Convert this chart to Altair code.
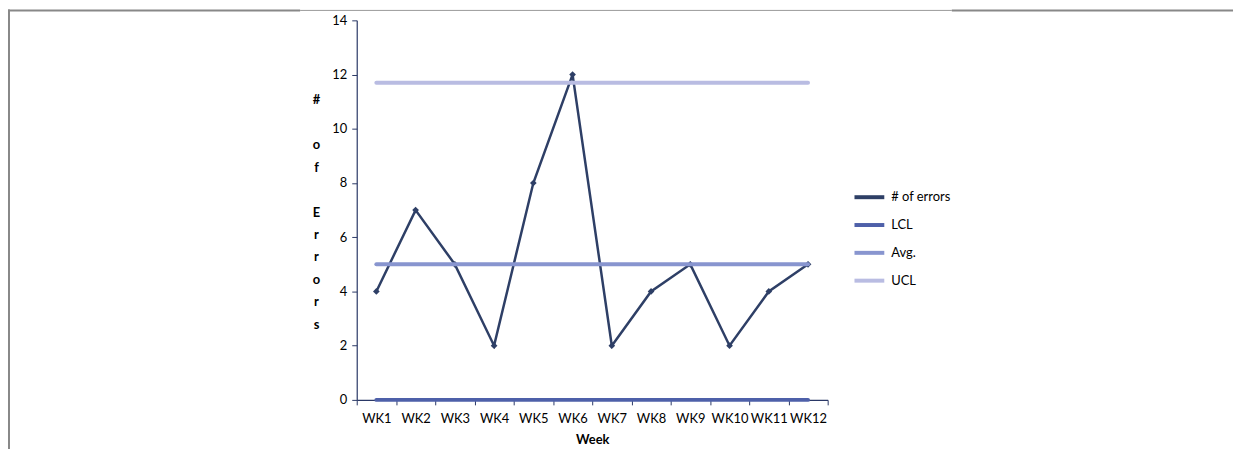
import altair as alt
import pandas as pd

weeks = ["WK1", "WK2", "WK3", "WK4", "WK5", "WK6", "WK7", "WK8", "WK9", "WK10", "WK11", "WK12"]
errors = [4, 7, 5, 2, 8, 12, 2, 4, 5, 2, 4, 5]
lcl_value = 0.0
avg_value = 5.0
ucl_value = 11.7

series_names = ["# of errors", "LCL", "Avg.", "UCL"]
series_colors = ["#2E3F66", "#4E60A9", "#8895CF", "#B9BCE2"]

err_df = pd.DataFrame({"week": weeks, "value": errors, "series": "# of errors"})
ctrl_rows = []
for name, v in [("LCL", lcl_value), ("Avg.", avg_value), ("UCL", ucl_value)]:
    for w in weeks:
        ctrl_rows.append({"week": w, "value": v, "series": name})
ctrl_df = pd.DataFrame(ctrl_rows)

FONT = "Lato"
W, H = 474, 382
BLANK = "\u2800"

x_enc = alt.X(
    "week:N",
    sort=weeks,
    bandPosition=0.5,
    scale=alt.Scale(type="band", paddingInner=0, paddingOuter=0),
    axis=alt.Axis(
        title="Week", tickBand="extent", labelAngle=0, labelPadding=8,
        titleFontWeight="bold", titlePadding=8,
    ),
)
y_enc = alt.Y(
    "value:Q",
    scale=alt.Scale(domain=[0, 14], nice=False),
    axis=alt.Axis(
        values=list(range(0, 15, 2)), grid=False, labelPadding=5,
        title=["#", BLANK, "o", "f", BLANK, "E", "r", "r", "o", "r", "s"],
        titleAngle=0, titleAlign="center", titleBaseline="top",
        titleX=-41, titleY=74, titleLineHeight=22.6, titleFontWeight="bold",
    ),
)
color_enc = alt.Color(
    "series:N",
    scale=alt.Scale(domain=series_names, range=series_colors),
    legend=alt.Legend(
        title=None, orient="none", legendX=499, legendY=161,
        symbolType="stroke", symbolSize=900, symbolStrokeWidth=4,
        rowPadding=3, labelFontSize=13, labelFont=FONT, labelOffset=5,
    ),
)

err_line = alt.Chart(err_df).mark_line(strokeWidth=2.5).encode(x=x_enc, y=y_enc, color=color_enc)
err_pts = alt.Chart(err_df).mark_point(shape="diamond", filled=True, size=45, opacity=1).encode(
    x=x_enc, y=y_enc, color=color_enc
)
ctrl = alt.Chart(ctrl_df).mark_line(strokeWidth=4, strokeCap="round").encode(
    x=x_enc, y=y_enc, color=color_enc, detail="series:N"
)

frame_df = pd.DataFrame({"k": [0]})
base = alt.Chart(frame_df)
frame_left = base.mark_rule(color="#888888", strokeWidth=2).encode(
    x=alt.value(-350), y=alt.value(-11), y2=alt.value(445)
)
frame_top1 = base.mark_rule(color="#888888", strokeWidth=2).encode(
    x=alt.value(-351), x2=alt.value(-57), y=alt.value(-10)
)
frame_top2 = base.mark_rule(color="#999999", strokeWidth=1).encode(
    x=alt.value(-57), x2=alt.value(599), y=alt.value(-10)
)
frame_top3 = base.mark_rule(color="#888888", strokeWidth=2).encode(
    x=alt.value(599), x2=alt.value(882), y=alt.value(-10)
)

chart = alt.layer(
    err_line, err_pts, ctrl, frame_left, frame_top1, frame_top2, frame_top3
).properties(
    width=W, height=H,
    autosize=alt.AutoSizeParams(type="none"),
    padding={"left": 351, "top": 11, "right": 411, "bottom": 48},
).configure_view(stroke=None).configure_axis(
    labelFont=FONT, titleFont=FONT, labelFontSize=13, titleFontSize=13,
    labelColor="#000000", titleColor="#000000",
    domainColor="#2A3866", tickColor="#2A3866", tickSize=5, domainWidth=1.2,
)

chart.save("out.html", embed_options={"renderer": "svg", "actions": False})
